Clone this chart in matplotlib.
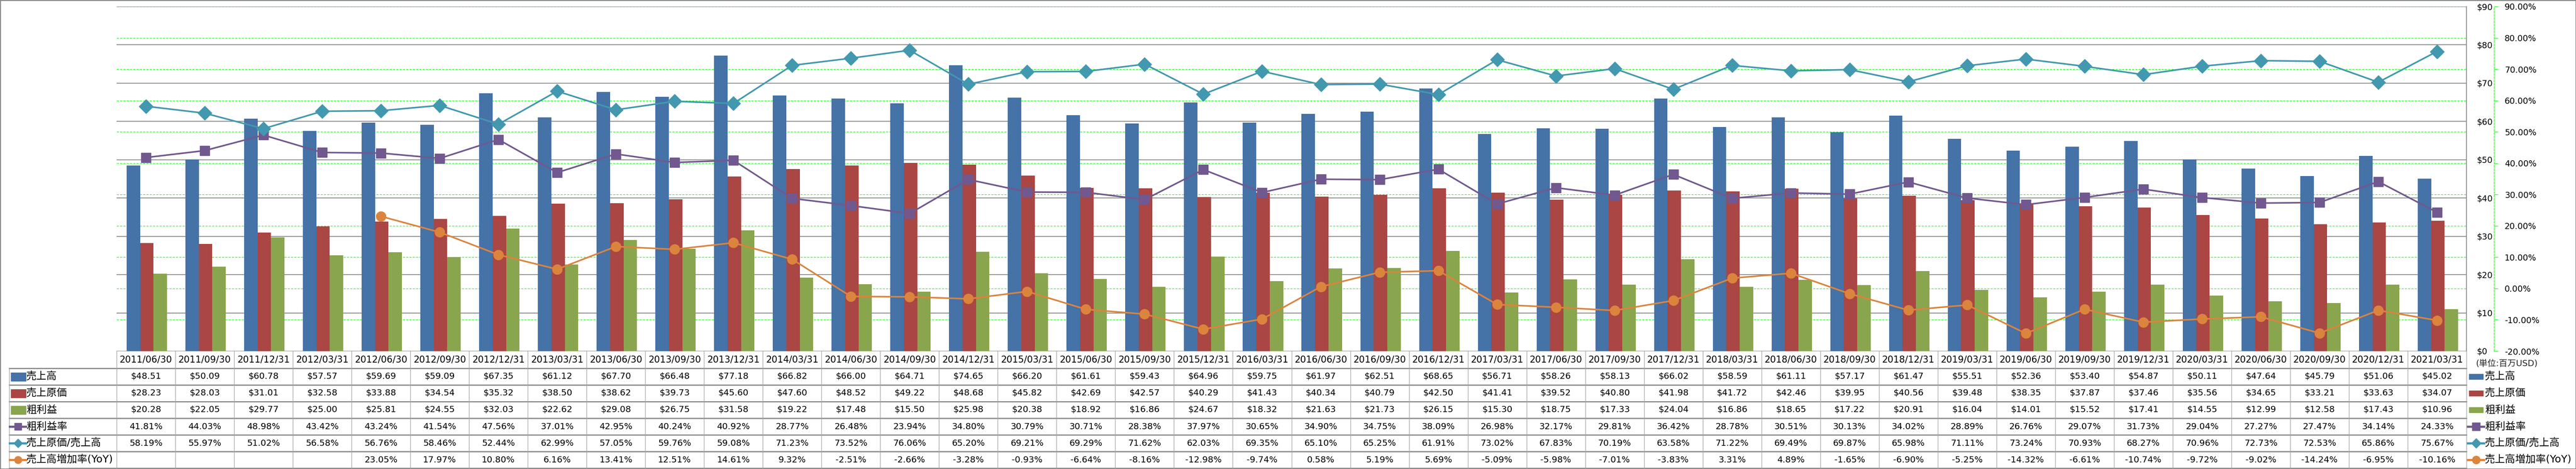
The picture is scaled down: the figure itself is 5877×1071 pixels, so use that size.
import numpy as np
import matplotlib
matplotlib.use('Agg')
import matplotlib.pyplot as plt
import matplotlib.transforms as mtransforms
from matplotlib.lines import Line2D
from matplotlib.patches import Rectangle
from matplotlib.ticker import FuncFormatter

plt.rcParams['font.family'] = ['DejaVu Sans', 'Noto Sans CJK JP']

# データ
dates = ['2011/06/30', '2011/09/30', '2011/12/31', '2012/03/31', '2012/06/30', '2012/09/30',
         '2012/12/31', '2013/03/31', '2013/06/30', '2013/09/30', '2013/12/31', '2014/03/31',
         '2014/06/30', '2014/09/30', '2014/12/31', '2015/03/31', '2015/06/30', '2015/09/30',
         '2015/12/31', '2016/03/31', '2016/06/30', '2016/09/30', '2016/12/31', '2017/03/31',
         '2017/06/30', '2017/09/30', '2017/12/31', '2018/03/31', '2018/06/30', '2018/09/30',
         '2018/12/31', '2019/03/31', '2019/06/30', '2019/09/30', '2019/12/31', '2020/03/31',
         '2020/06/30', '2020/09/30', '2020/12/31', '2021/03/31']

revenue = [48.51, 50.09, 60.78, 57.57, 59.69, 59.09, 67.35, 61.12, 67.70, 66.48,
           77.18, 66.82, 66.00, 64.71, 74.65, 66.20, 61.61, 59.43, 64.96, 59.75,
           61.97, 62.51, 68.65, 56.71, 58.26, 58.13, 66.02, 58.59, 61.11, 57.17,
           61.47, 55.51, 52.36, 53.40, 54.87, 50.11, 47.64, 45.79, 51.06, 45.02]

cogs = [28.23, 28.03, 31.01, 32.58, 33.88, 34.54, 35.32, 38.50, 38.62, 39.73,
        45.60, 47.60, 48.52, 49.22, 48.68, 45.82, 42.69, 42.57, 40.29, 41.43,
        40.34, 40.79, 42.50, 41.41, 39.52, 40.80, 41.98, 41.72, 42.46, 39.95,
        40.56, 39.48, 38.35, 37.87, 37.46, 35.56, 34.65, 33.21, 33.63, 34.07]

gross = [20.28, 22.05, 29.77, 25.00, 25.81, 24.55, 32.03, 22.62, 29.08, 26.75,
         31.58, 19.22, 17.48, 15.50, 25.98, 20.38, 18.92, 16.86, 24.67, 18.32,
         21.63, 21.73, 26.15, 15.30, 18.75, 17.33, 24.04, 16.86, 18.65, 17.22,
         20.91, 16.04, 14.01, 15.52, 17.41, 14.55, 12.99, 12.58, 17.43, 10.96]

gross_margin = [41.81, 44.03, 48.98, 43.42, 43.24, 41.54, 47.56, 37.01, 42.95, 40.24,
                40.92, 28.77, 26.48, 23.94, 34.80, 30.79, 30.71, 28.38, 37.97, 30.65,
                34.90, 34.75, 38.09, 26.98, 32.17, 29.81, 36.42, 28.78, 30.51, 30.13,
                34.02, 28.89, 26.76, 29.07, 31.73, 29.04, 27.27, 27.47, 34.14, 24.33]

cogs_ratio = [58.19, 55.97, 51.02, 56.58, 56.76, 58.46, 52.44, 62.99, 57.05, 59.76,
              59.08, 71.23, 73.52, 76.06, 65.20, 69.21, 69.29, 71.62, 62.03, 69.35,
              65.10, 65.25, 61.91, 73.02, 67.83, 70.19, 63.58, 71.22, 69.49, 69.87,
              65.98, 71.11, 73.24, 70.93, 68.27, 70.96, 72.73, 72.53, 65.86, 75.67]

# 最初の4期は前年データなし
yoy = [np.nan, np.nan, np.nan, np.nan, 23.05, 17.97, 10.80, 6.16, 13.41, 12.51,
       14.61, 9.32, -2.51, -2.66, -3.28, -0.93, -6.64, -8.16, -12.98, -9.74,
       0.58, 5.19, 5.69, -5.09, -5.98, -7.01, -3.83, 3.31, 4.89, -1.65,
       -6.90, -5.25, -14.32, -6.61, -10.74, -9.72, -9.02, -14.24, -6.95, -10.16]

c_blue, c_red, c_green = '#4572A7', '#AA4643', '#89A54E'
c_purple, c_teal, c_orange = '#71588F', '#4198AF', '#DB843D'

W, H = 5877, 1071
fig = plt.figure(figsize=(W / 100, H / 100), dpi=100)


def fx(px):
    return px / W


def fy(py):
    return 1 - py / H


x = np.arange(len(dates))

# 背景: %軸の緑の点線グリッド
ax = fig.add_axes([fx(266), fy(802), fx(5627) - fx(266), fy(15) - fy(802)])
ax.set_xlim(-0.5, len(dates) - 0.5)
ax.set_ylim(-20, 90)
ax.set_yticks(range(-20, 91, 10))
ax.yaxis.grid(True, color='#00FF00', linestyle=(0, (4, 2)), linewidth=0.9)
for s in ax.spines.values():
    s.set_visible(False)

# 棒グラフ($軸)
ax_bar = ax.twinx()
ax_bar.set_ylim(0, 90)
ax_bar.set_yticks(range(0, 91, 10))
ax_bar.yaxis.set_major_formatter(FuncFormatter(lambda v, p: f'${v:.0f}'))
ax_bar.yaxis.grid(True, color='#868686', linewidth=1.3)
ax_bar.set_axisbelow(True)
w = 0.229
ax_bar.bar(x - w + 0.015, revenue, w, color=c_blue)
ax_bar.bar(x + 0.015, cogs, w, color=c_red)
ax_bar.bar(x + w + 0.015, gross, w, color=c_green)
ax_bar.tick_params(axis='y', length=0, pad=16.6, labelsize=13.8)
for k in ['top', 'bottom', 'left']:
    ax_bar.spines[k].set_visible(False)
ax_bar.spines['right'].set_color('#868686')
ax_bar.spines['right'].set_linewidth(1.3)

# 折れ線(%軸)
ax_line = ax.twinx()
ax_line.set_ylim(-20, 90)
ax_line.plot(x, gross_margin, color=c_purple, lw=2.6, marker='s', ms=16)
ax_line.plot(x, cogs_ratio, color=c_teal, lw=2.6, marker='D', ms=16)
ax_line.plot(x, yoy, color=c_orange, lw=2.6, marker='o', ms=16)
pct_ticks = list(range(-20, 91, 10))
ax_line.set_yticks(pct_ticks)
ax_line.set_yticklabels([f'{t:.2f}%' for t in pct_ticks])
for t, lbl in zip(pct_ticks, ax_line.get_yticklabels()):
    lbl.set_color('red' if t < 0 else 'black')
ax_line.tick_params(axis='y', length=6.5, width=0.9, color='#00FF00', pad=10.8, labelsize=13.8)
for k in ['top', 'bottom', 'left']:
    ax_line.spines[k].set_visible(False)
ax_line.spines['right'].set_position(('outward', 45.4))
ax_line.spines['right'].set_color('#00FF00')
ax_line.spines['right'].set_linestyle((0, (4, 2)))
ax_line.spines['right'].set_linewidth(0.9)

# twinx で左の目盛りが戻るので最後に消す
ax.tick_params(left=False, labelleft=False, right=False, labelright=False,
               bottom=False, labelbottom=False)
for a in (ax_bar, ax_line):
    a.tick_params(bottom=False, labelbottom=False, left=False, labelleft=False)

fig.text(fx(5648), fy(830), '(単位:百万USD)', fontsize=14, va='center', ha='left', color='#222222')

# データテーブル
trans = mtransforms.blended_transform_factory(ax.transData, fig.transFigure)
edges = [802, 841, 879, 917, 955, 993, 1031, 1069]

for y in edges[1:]:
    fig.add_artist(Line2D([fx(21), fx(5627)], [fy(y), fy(y)], transform=fig.transFigure,
                          color='#8C8C8C', lw=2))
for i in range(len(dates) + 1):
    fig.add_artist(Line2D([i - 0.5, i - 0.5], [fy(802), fy(1069)], transform=trans,
                          color='#A6A6A6', lw=1))
fig.add_artist(Line2D([fx(21), fx(21)], [fy(841), fy(1069)], transform=fig.transFigure,
                      color='#A6A6A6', lw=1))

rows = [
    ('売上高', [f'${v:.2f}' for v in revenue], 'bar', c_blue, None),
    ('売上原価', [f'${v:.2f}' for v in cogs], 'bar', c_red, None),
    ('粗利益', [f'${v:.2f}' for v in gross], 'bar', c_green, None),
    ('粗利益率', [f'{v:.2f}%' for v in gross_margin], 'line', c_purple, 's'),
    ('売上原価/売上高', [f'{v:.2f}%' for v in cogs_ratio], 'line', c_teal, 'D'),
    ('売上高増加率(YoY)', ['' if np.isnan(v) else f'{v:.2f}%' for v in yoy], 'line', c_orange, 'o'),
]

yc0 = (edges[0] + edges[1]) / 2
for i, d in enumerate(dates):
    ax.text(i, fy(yc0), d, transform=trans, ha='center', va='center', fontsize=15)

for r, (name, vals, kind, col, mk) in enumerate(rows):
    yc = (edges[r + 1] + edges[r + 2]) / 2
    for i, s in enumerate(vals):
        ax.text(i, fy(yc), s, transform=trans, ha='center', va='center', fontsize=14.3)
    # 表側の凡例キー
    if kind == 'bar':
        fig.add_artist(Rectangle((fx(25), fy(yc + 9.5)), fx(34), 19 / H,
                                 transform=fig.transFigure, color=col))
    else:
        fig.add_artist(Line2D([fx(22), fx(59)], [fy(yc), fy(yc)], transform=fig.transFigure,
                              color=col, lw=3.5))
        fig.add_artist(Line2D([fx(40.5)], [fy(yc)], transform=fig.transFigure,
                              color=col, marker=mk, ms=12 if mk != 'D' else 10))
    fig.text(fx(60), fy(yc), name, fontsize=16.8, ha='left', va='center')

    # 右側の凡例
    if kind == 'bar':
        fig.add_artist(Rectangle((fx(5633), fy(yc + 6)), fx(32), 12 / H,
                                 transform=fig.transFigure, color=col))
    else:
        fig.add_artist(Line2D([fx(5630), fx(5667)], [fy(yc), fy(yc)], transform=fig.transFigure,
                              color=col, lw=3.5))
        fig.add_artist(Line2D([fx(5648.5)], [fy(yc)], transform=fig.transFigure,
                              color=col, marker=mk, ms=13 if mk != 'D' else 11))
    fig.text(fx(5669), fy(yc), name, fontsize=16.8, ha='left', va='center')

# 外枠
fig.add_artist(Rectangle((0, 0), 1, 1, transform=fig.transFigure, fill=False,
                         ec='#888888', lw=2.5))

fig.savefig('out.png', dpi=100)
